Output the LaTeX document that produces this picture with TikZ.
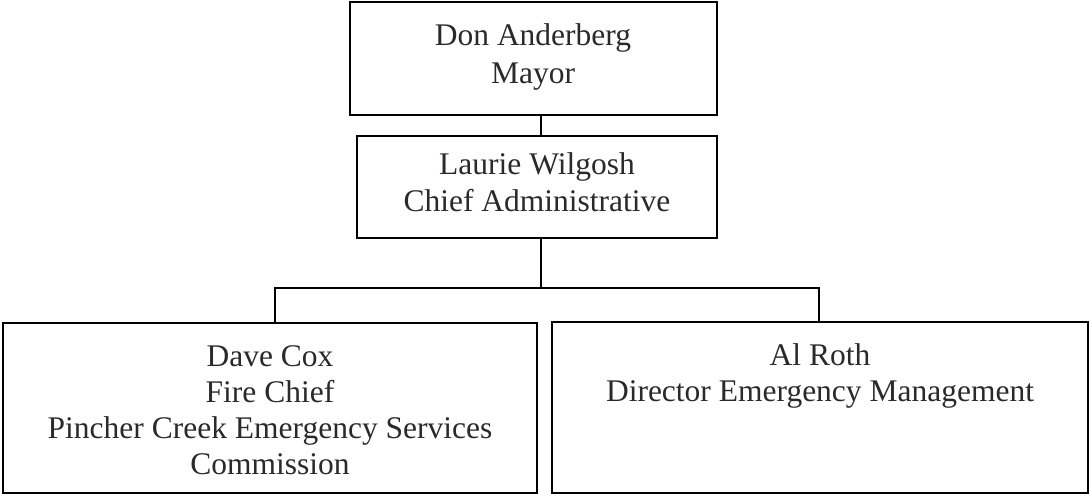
\documentclass[tikz,border=0pt]{standalone}
\usepackage{fontspec}
\setmainfont{Liberation Serif}
\definecolor{ink}{HTML}{2A2A2A}
\begin{document}
\begin{tikzpicture}[x=1pt,y=-1pt,
  box/.style={draw=black,line width=1.6pt,rectangle,inner sep=0pt},
  lbl/.style={text=ink,align=center,inner sep=0pt,font=\fontsize{31.5}{36}\selectfont},
  conn/.style={draw=black,line width=1.6pt}]
\useasboundingbox (0,0) rectangle (1090,496);
\node[box,minimum width=367pt,minimum height=113pt] (mayor) at (533.5,58.5) {};
\node[box,minimum width=360pt,minimum height=102pt] (cao) at (537,187) {};
\node[box,minimum width=534pt,minimum height=170pt] (left) at (270,408) {};
\node[box,minimum width=536pt,minimum height=171pt] (right) at (820,407.5) {};
\node[lbl,font=\fontsize{31.5}{38}\selectfont] (tmayor) at (533,57) {Don Anderberg\\Mayor};
\node[lbl,font=\fontsize{31.5}{37}\selectfont] (tcao) at (537,182) {Laurie Wilgosh\\Chief Administrative};
\node[lbl] (tleft) at (270,410) {Dave Cox\\Fire Chief\\Pincher Creek Emergency Services\\Commission};
\node[lbl] (tright) at (820,375.5) {Al Roth\\Director Emergency Management};
\coordinate (j) at (541,288);
\coordinate (bl) at (275,288);
\coordinate (br) at (819,288);
\draw[conn] (j |- mayor.south) -- (j |- cao.north);
\draw[conn] (j |- cao.south) -- (j);
\draw[conn] (bl |- left.north) -- (bl) -- (br) -- (br |- right.north);
\end{tikzpicture}
\end{document}
